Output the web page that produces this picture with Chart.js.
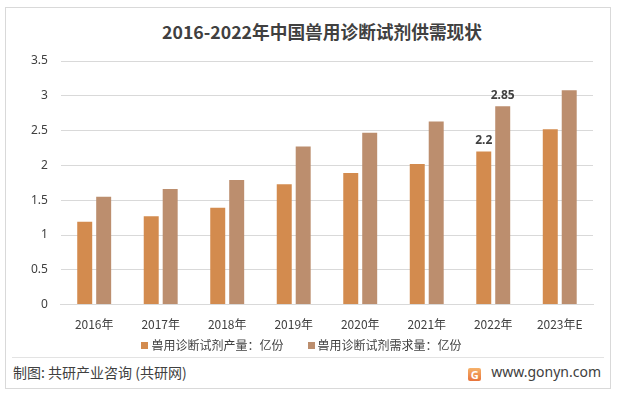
<!DOCTYPE html>
<html>
<head>
<meta charset="utf-8">
<script src="https://cdn.jsdelivr.net/npm/chart.js@4"></script>
<style>
  html, body { margin: 0; padding: 0; background: #fff; }
  body { width: 617px; height: 395px; position: relative; overflow: hidden;
         font-family: "Noto Sans CJK SC", "Noto Sans", sans-serif; color: #404040; }
  #frame { position: absolute; left: 5px; top: 7px; width: 604px; height: 380px;
           border: 1px solid #d9d9d9; }
  #title { position: absolute; left: 0; top: 21px; width: 644px; text-align: center;
           font-size: 17.7px; font-weight: bold; line-height: 20px; }
  #wrap { position: absolute; left: 6px; top: 8px; width: 604px; height: 335px; }
  #legend { position: absolute; left: -7px; top: 337px; width: 617px; height: 16px;
            font-size: 12px; line-height: 16px; display: flex; justify-content: center; gap: 24px; }
  #legend span.box { display: inline-block; width: 7px; height: 7px; margin-right: 3px;
                     vertical-align: 1px; }
  #sep { position: absolute; left: 12px; top: 357px; width: 592px; height: 0;
         border-top: 1px solid #e3e3e3; }
  #src { position: absolute; left: 13px; top: 362px; font-size: 14px; line-height: 20px; }
  #site { position: absolute; right: 16px; top: 362px; font-size: 14px; line-height: 20px;
          font-family: "Noto Sans", sans-serif; }
  #logo { display: inline-block; width: 13px; height: 13px; margin-right: 10px;
          vertical-align: -2px; border-radius: 2px;
          background: linear-gradient(#f6b26b, #e8743b); color: #fff;
          font-size: 11px; font-weight: bold; line-height: 13px; text-align: center; }
</style>
</head>
<body>
<div id="frame"></div>
<div id="title">2016-2022年中国兽用诊断试剂供需现状</div>
<div id="wrap"><canvas id="chart" width="604" height="335"></canvas></div>
<div id="legend"></div>
<div id="sep"></div>
<div id="src">制图: 共研产业咨询 (共研网)</div>
<div id="site"><span id="logo">G</span>www.gonyn.com</div>
<script>
const years = ['2016年', '2017年', '2018年', '2019年', '2020年', '2021年', '2022年', '2023年E'];
const production = [1.19, 1.27, 1.39, 1.73, 1.89, 2.02, 2.2, 2.52];
const demand = [1.55, 1.66, 1.79, 2.27, 2.47, 2.63, 2.85, 3.08];
const seriesNames = ['兽用诊断试剂产量：亿份', '兽用诊断试剂需求量：亿份'];
const seriesColors = ['#d38b4e', '#bc8e6e'];
const labelledIndex = 6;

const textColor = '#404040';

// Value labels above the 2022 bars only.
const valueLabels = {
  id: 'valueLabels',
  afterDatasetsDraw(chart) {
    const ctx = chart.ctx;
    ctx.save();
    ctx.font = 'bold 12px "Noto Sans", sans-serif';
    ctx.fillStyle = textColor;
    ctx.textAlign = 'center';
    ctx.textBaseline = 'bottom';
    chart.data.datasets.forEach((ds, i) => {
      const bar = chart.getDatasetMeta(i).data[labelledIndex];
      ctx.fillText(String(ds.data[labelledIndex]), bar.x, bar.y - 5);
    });
    ctx.restore();
  }
};

const chart = new Chart(document.getElementById('chart'), {
  type: 'bar',
  data: {
    labels: years,
    datasets: [
      { label: seriesNames[0], data: production, backgroundColor: seriesColors[0],
        barPercentage: 0.79, categoryPercentage: 0.57 },
      { label: seriesNames[1], data: demand, backgroundColor: seriesColors[1],
        barPercentage: 0.79, categoryPercentage: 0.57 },
    ],
  },
  options: {
    responsive: false,
    animation: false,
    layout: { padding: { left: 12, right: 17, top: 53, bottom: 6 } },
    plugins: {
      legend: { display: false },
      tooltip: { enabled: false },
    },
    scales: {
      x: {
        grid: { display: false },
        border: { color: '#d9d9d9' },
        ticks: { color: textColor, font: { family: '"Noto Sans CJK SC", sans-serif', size: 12 }, padding: 5 },
      },
      y: {
        min: 0, max: 3.5,
        ticks: { stepSize: 0.5, color: textColor, padding: 13,
                 font: { family: '"Noto Sans", sans-serif', size: 12 },
                 callback: (v) => String(v) },
        grid: { color: '#d9d9d9', drawTicks: false },
        border: { display: false },
      },
    },
  },
  plugins: [valueLabels],
});

// HTML legend built from the datasets
const legendEl = document.getElementById('legend');
legendEl.innerHTML = chart.data.datasets.map((ds) =>
  `<div><span class="box" style="background:${ds.backgroundColor}"></span>${ds.label}</div>`
).join('');
</script>
</body>
</html>
